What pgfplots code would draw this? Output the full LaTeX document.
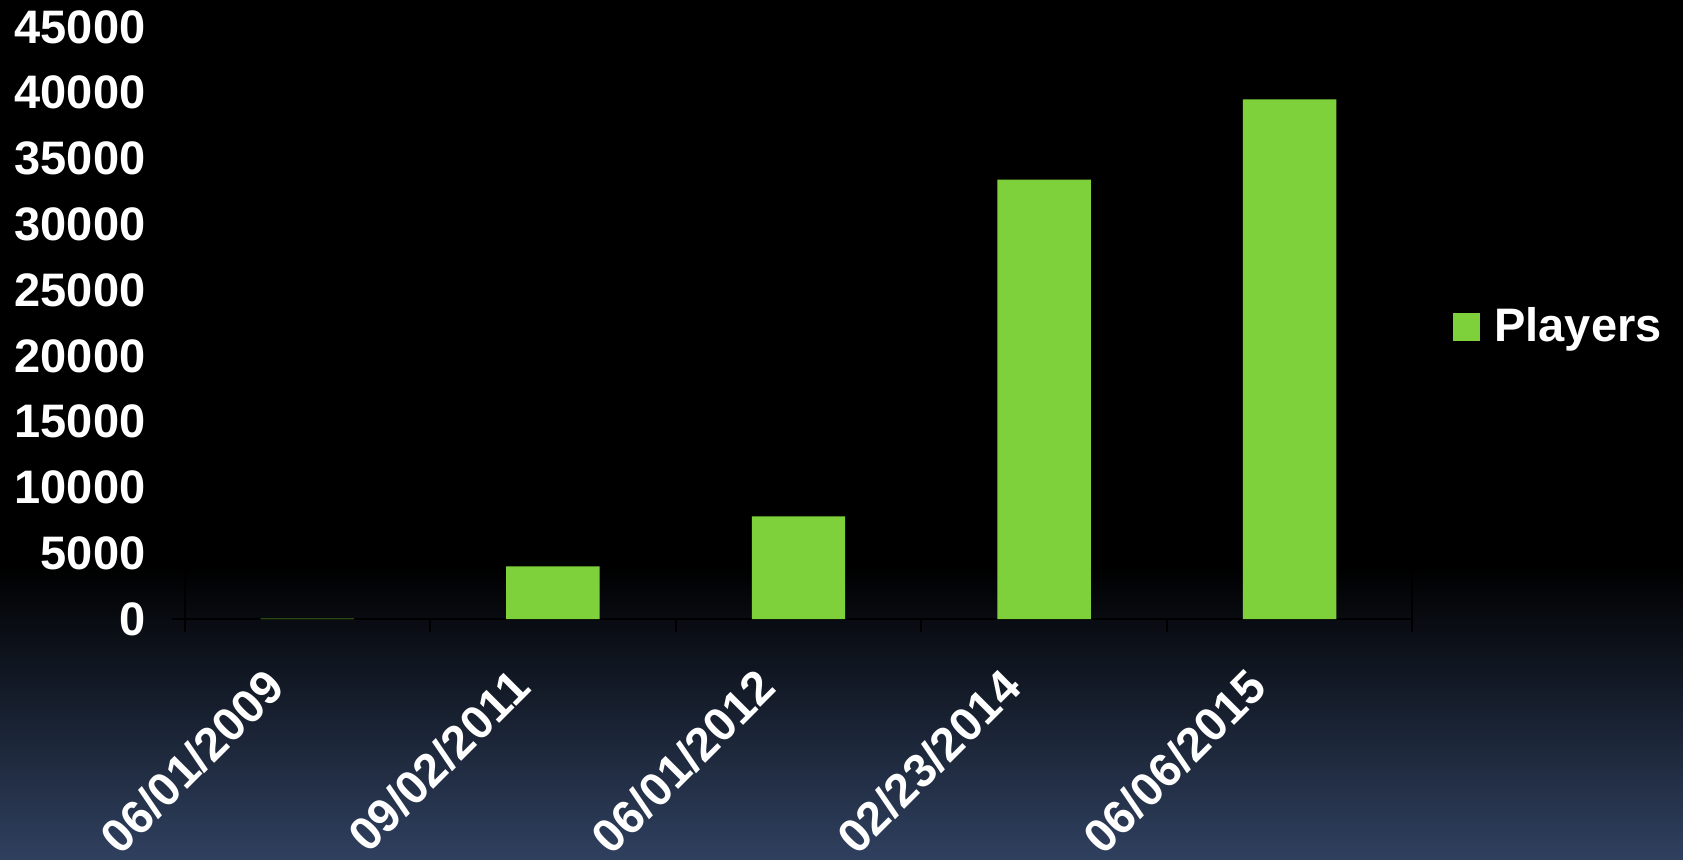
\documentclass[border=0pt]{standalone}
\usepackage{pgfplots}
\pgfplotsset{compat=1.18}
\usepackage{fontspec}
\setmainfont{Liberation Sans}
\definecolor{bargreen}{RGB}{127,209,59}
\definecolor{bgbot}{RGB}{47,64,95}
\begin{document}
\begin{tikzpicture}
\fill[black] (-92.3pt,26pt) rectangle (749.2pt,309.5pt);
\shade[top color=black,bottom color=bgbot] (-92.3pt,-120pt) rectangle (749.2pt,26pt);
\path[use as bounding box] (-92.3pt,-120pt) rectangle (749.2pt,309.5pt);
\begin{axis}[
  at={(0pt,0pt)}, anchor=south west,
  scale only axis,
  width=613.9pt, height=296pt,
  xmin=-0.5, xmax=4.5,
  ymin=0, ymax=45000,
  ytick={0,5000,...,45000},
  scaled y ticks=false,
  /pgf/number format/set thousands separator={},
  /pgf/number format/assume math mode=true,
  xtick={0,1,2,3,4},
  xticklabels={06/01/2009,09/02/2011,06/01/2012,02/23/2014,06/06/2015},
  minor xtick={-0.5,0.5,1.5,2.5,3.5,4.5},
  major x tick style={draw=none},
  tick align=outside,
  xtick pos=bottom, ytick pos=left,
  major tick length=6.5pt, minor tick length=6.5pt,
  tick style={black, line width=1pt},
  axis line style={black, line width=1pt},
  ticklabel style={font=\fontsize{23.5}{28}\selectfont\bfseries, text=white},
  yticklabel style={anchor=east, inner sep=0pt, xshift=-12.9pt},
  xticklabel style={xshift=-10pt, yshift=-29pt, rotate=45, anchor=base east, inner sep=0pt},
  ybar, bar width=46.7pt,
  legend style={draw=none, fill=none, at={(1,0.495)}, anchor=west, xshift=20.3pt,
    inner sep=0pt, font=\fontsize{23.5}{28}\selectfont\bfseries, text=white,
    nodes={inner sep=0pt}},
  legend image code/.code={\fill[#1] (0pt,-7.5pt) rectangle (13.5pt,6.5pt); \path (20.5pt,0pt);},
]
\addplot[fill=bargreen, draw=none] coordinates {(0,30) (1,4000) (2,7800) (3,33400) (4,39500)};
\addlegendentry{Players}
\end{axis}
\end{tikzpicture}
\end{document}
